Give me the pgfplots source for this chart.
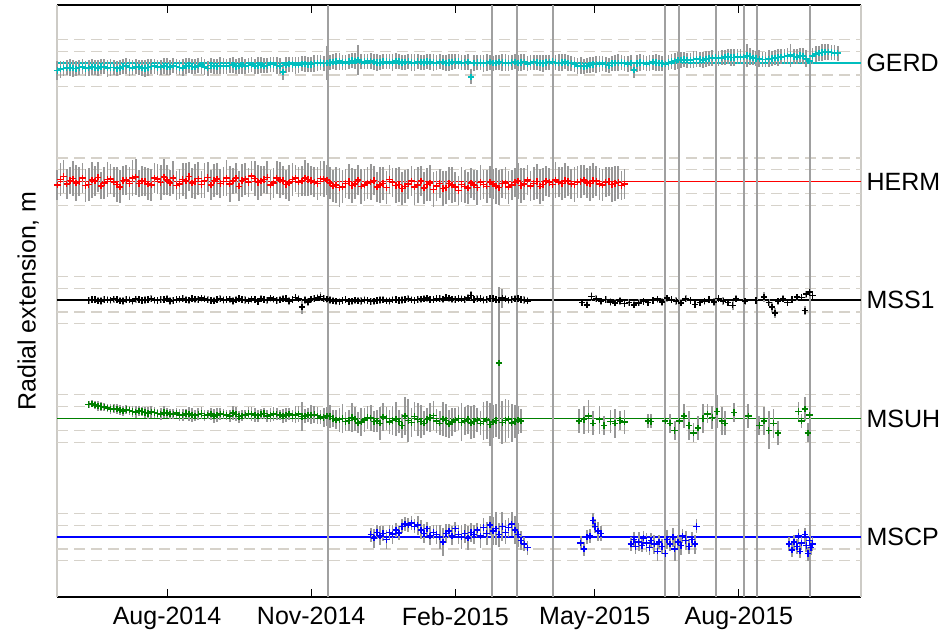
\documentclass[border=0pt]{standalone}
\usepackage{fontspec}
\setmainfont{Liberation Sans}
\usepackage{pgfplots}
\usepackage{pgfplotstable}
\pgfplotsset{compat=1.18}
\definecolor{cyanM}{RGB}{0,190,190}
\definecolor{greenM}{RGB}{0,128,0}
\definecolor{ebC}{RGB}{152,152,152}
\definecolor{dashC}{RGB}{214,210,202}
\definecolor{vlineC}{RGB}{160,160,160}
\definecolor{borderC}{RGB}{205,203,198}

\pgfplotstableread{
x y e
-70 -0.32 .25
-66 -0.22 .2
-62 -0.18 .22
-58 -0.24 .2
-54 -0.16 .2
-50 -0.21 .22
-46 -0.19 .2
-42 -0.14 .2
-38 -0.22 .22
-34 -0.18 .2
-30 -0.20 .2
-26 -0.13 .22
-22 -0.20 .2
-18 -0.17 .2
-14 -0.23 .22
-10 -0.15 .2
-6 -0.19 .2
-2 -0.12 .22
2 -0.17 .2
6 -0.14 .2
10 -0.20 .22
14 -0.11 .2
18 -0.16 .2
22 -0.09 .22
26 -0.22 .2
30 -0.13 .2
34 -0.10 .22
38 -0.15 .2
42 -0.08 .2
46 -0.12 .22
50 -0.14 .2
54 -0.07 .2
58 -0.10 .22
62 -0.12 .2
66 -0.06 .2
70 -0.10 .22
74 -0.38 .2
78 -0.05 .2
82 -0.09 .22
86 -0.03 .2
90 -0.07 .2
94 -0.02 .22
98 0.02 .2
102 -0.01 .45
106 0.05 .2
110 0.08 .22
114 0.04 .2
118 0.10 .2
122 0.12 .4
126 0.06 .2
130 0.09 .2
134 0.03 .22
138 0.07 .2
142 0.05 .2
146 0.09 .22
150 0.02 .2
154 0.06 .2
158 0.01 .22
162 0.04 .2
166 0.07 .2
170 0.02 .22
174 0.05 .2
178 0.00 .2
182 0.04 .22
186 0.06 .2
190 0.03 .2
194 -0.58 .2
198 0.02 .2
202 -0.02 .22
206 0.04 .2
210 0.01 .2
214 0.03 .22
218 0.00 .2
222 0.05 .2
226 0.02 .22
230 -0.03 .2
234 0.04 .2
238 0.00 .22
242 0.03 .2
246 0.06 .2
250 0.01 .22
254 0.05 .2
258 -0.02 .2
262 -0.12 .22
266 -0.15 .2
270 -0.08 .2
274 -0.05 .22
278 -0.02 .2
282 -0.10 .2
286 0.00 .22
290 0.03 .2
294 -0.04 .2
298 -0.30 .2
302 0.02 .22
306 -0.03 .2
310 0.04 .2
314 0.00 .22
318 -0.05 .2
322 0.06 .2
326 0.12 .22
330 0.15 .2
334 0.10 .2
338 0.17 .22
342 0.13 .2
346 0.20 .2
350 0.24 .22
354 0.22 .2
358 0.27 .2
362 0.23 .22
366 0.26 .2
370 0.32 .3
374 0.22 .2
378 0.18 .22
382 0.14 .2
386 0.20 .2
390 0.24 .22
394 0.28 .2
398 0.33 .3
402 0.26 .2
406 0.30 .22
410 0.08 .2
414 0.38 .2
418 0.45 .22
422 0.47 .2
426 0.43 .2
}\gerd

\pgfplotstableread{
x y e
-68 -0.26 .22
-64 -0.20 .2
-60 -0.22 .22
-56 -0.19 .2
-52 -0.23 .2
-48 -0.17 .22
-44 -0.21 .2
-40 -0.16 .2
-36 -0.19 .22
-32 -0.24 .2
-28 -0.15 .2
-24 -0.18 .22
-20 -0.14 .2
-16 -0.21 .2
-12 -0.18 .22
-8 -0.13 .2
-4 -0.17 .2
0 -0.15 .22
4 -0.12 .2
8 -0.18 .2
12 -0.13 .22
16 -0.15 .2
20 -0.12 .2
24 -0.16 .22
28 -0.11 .2
32 -0.15 .2
36 -0.12 .22
40 -0.10 .2
44 -0.14 .2
48 -0.09 .22
52 -0.11 .2
56 -0.13 .2
60 -0.08 .22
64 -0.11 .2
68 -0.07 .2
72 -0.12 .22
76 -0.08 .2
80 -0.06 .2
84 -0.08 .22
88 -0.04 .2
92 -0.06 .2
96 0.00 .22
100 -0.02 .2
104 0.03 .2
108 0.06 .22
112 0.02 .2
116 0.07 .2
120 0.09 .22
124 0.05 .2
128 0.08 .2
132 0.05 .22
136 0.02 .2
140 0.06 .2
144 0.03 .22
148 0.07 .2
152 0.04 .2
156 0.02 .22
160 0.06 .2
164 0.03 .2
168 0.05 .22
172 0.01 .2
176 0.04 .2
180 0.02 .22
184 0.06 .2
188 0.01 .2
192 0.04 .22
196 0.00 .2
200 0.03 .2
204 0.01 .22
208 -0.01 .2
212 0.04 .2
216 0.02 .22
220 0.03 .2
224 0.00 .2
228 0.04 .22
232 0.01 .2
236 0.02 .2
240 -0.02 .22
244 0.04 .2
248 0.02 .2
252 0.03 .22
256 0.00 .2
260 -0.06 .2
264 -0.10 .22
268 -0.12 .2
272 -0.06 .2
276 -0.04 .22
280 -0.06 .2
284 -0.02 .2
288 0.01 .22
292 -0.02 .2
296 0.00 .2
300 -0.02 .22
304 0.01 .2
308 0.00 .2
312 0.02 .22
316 -0.02 .2
320 0.03 .2
324 0.08 .22
328 0.13 .2
332 0.12 .2
336 0.14 .22
340 0.15 .2
344 0.17 .2
348 0.22 .22
352 0.20 .2
356 0.25 .2
360 0.24 .22
364 0.28 .2
368 0.25 .2
372 0.27 .22
376 0.20 .2
380 0.16 .2
384 0.18 .22
388 0.22 .2
392 0.26 .2
396 0.30 .22
400 0.28 .2
404 0.32 .2
408 0.18 .22
412 0.30 .2
416 0.42 .2
420 0.46 .22
424 0.44 .2
428 0.42 .2
}\gerdb

\pgfplotstableread{
x y e
-70 -0.15 .5
-66 0.22 .55
-62 0.05 .45
-58 -0.06 .6
-54 0.14 .5
-50 -0.12 .55
-46 0.02 .5
-42 -0.18 .45
-38 0.08 .6
-34 -0.02 .5
-30 -0.22 .55
-26 0.06 .5
-22 0.16 .6
-18 -0.08 .45
-14 0.00 .5
-10 -0.14 .55
-6 0.10 .5
-2 0.20 .6
2 -0.06 .45
6 -0.16 .5
10 0.08 .55
14 0.22 .5
18 0.00 .6
22 -0.12 .45
26 0.18 .5
30 0.04 .55
34 -0.08 .5
38 0.14 .6
42 0.02 .45
46 -0.20 .5
50 0.10 .55
54 0.24 .5
58 -0.04 .6
62 0.08 .45
66 -0.14 .5
70 0.16 .55
74 0.04 .5
78 -0.06 .6
82 0.14 .45
86 0.02 .5
90 0.08 .55
94 -0.02 .5
98 0.12 .6
102 0.06 .5
106 -0.18 .55
110 -0.26 .65
114 -0.08 .5
118 -0.16 .6
122 0.06 .5
126 -0.14 .55
130 -0.02 .6
134 -0.22 .5
138 -0.08 .55
142 0.08 .5
146 -0.16 .6
150 -0.30 .55
154 -0.10 .5
158 -0.24 .6
162 0.02 .5
166 -0.12 .55
170 -0.34 .6
174 -0.08 .5
178 -0.26 .55
182 -0.14 .6
186 -0.38 .5
190 -0.20 .55
194 -0.06 .5
198 -0.26 .6
202 -0.12 .5
206 -0.02 .55
210 -0.18 .6
214 -0.08 .5
218 -0.24 .55
222 -0.04 .5
226 -0.16 .6
230 0.06 .5
234 -0.08 .55
238 -0.20 .6
242 0.02 .5
246 -0.12 .55
250 -0.02 .5
254 0.04 .6
258 -0.10 .5
262 -0.02 .55
266 0.06 .5
270 -0.08 .6
274 0.02 .5
278 -0.14 .55
282 0.00 .5
286 -0.08 .6
290 -0.16 .5
}\herm

\pgfplotstableread{
x y e
-68 0.08 .55
-64 -0.10 .5
-60 0.12 .6
-56 0.00 .5
-52 -0.16 .55
-48 0.06 .6
-44 0.18 .5
-40 -0.06 .55
-36 0.10 .5
-32 -0.12 .6
-28 0.04 .5
-24 -0.08 .55
-20 0.20 .6
-16 0.02 .5
-12 -0.10 .55
-8 0.14 .5
-4 -0.04 .6
0 0.06 .5
4 0.16 .55
8 -0.10 .5
12 0.02 .6
16 -0.06 .5
20 0.12 .55
24 0.04 .6
28 -0.14 .5
32 0.10 .55
36 0.00 .5
40 -0.10 .6
44 0.14 .5
48 0.04 .55
52 -0.04 .5
56 0.12 .6
60 0.02 .5
64 0.18 .55
68 -0.06 .5
72 0.06 .6
76 -0.12 .5
80 0.08 .55
84 -0.02 .5
88 0.16 .6
92 0.04 .5
96 -0.08 .55
100 0.10 .6
104 -0.06 .55
108 -0.14 .6
112 -0.22 .55
116 0.00 .6
120 -0.10 .5
124 -0.20 .6
128 -0.06 .55
132 0.04 .5
136 -0.14 .6
140 -0.26 .55
144 -0.04 .5
148 -0.12 .6
152 -0.20 .55
156 0.02 .5
160 -0.14 .6
164 -0.28 .55
168 -0.06 .6
172 -0.18 .5
176 -0.30 .6
180 -0.08 .55
184 -0.22 .5
188 -0.12 .6
192 -0.28 .55
196 -0.14 .5
200 -0.04 .6
204 -0.20 .55
208 -0.10 .5
212 -0.26 .6
216 -0.06 .55
220 -0.14 .5
224 0.02 .6
228 -0.10 .55
232 -0.18 .5
236 0.00 .6
240 -0.12 .55
244 -0.04 .5
248 0.06 .6
252 -0.08 .55
256 0.02 .5
260 -0.12 .6
264 0.00 .55
268 -0.06 .5
272 0.04 .6
276 -0.10 .55
280 -0.02 .5
284 -0.12 .6
288 -0.04 .55
292 -0.10 .5
}\hermb

\pgfplotstableread{
x y e
-50 -0.02 .15
-46 0.03 .15
-42 -0.04 .15
-38 0.01 .15
-34 0.04 .15
-30 -0.03 .15
-26 0.02 .15
-22 -0.05 .15
-18 0.03 .15
-14 0.00 .15
-10 0.05 .15
-6 -0.02 .15
-2 0.03 .15
2 -0.04 .15
6 0.02 .15
10 0.06 .15
14 -0.01 .15
18 0.04 .15
22 0.08 .15
26 0.01 .15
30 -0.03 .15
34 0.05 .15
38 0.02 .15
42 -0.04 .15
46 0.06 .15
50 0.00 .15
54 0.04 .15
58 -0.06 .15
62 0.03 .15
66 0.08 .15
70 -0.02 .15
74 0.05 .15
78 -0.04 .15
82 0.10 .15
86 -0.30 .3
90 -0.08 .15
94 0.06 .15
98 0.14 .2
102 0.04 .15
106 -0.03 .15
110 -0.07 .15
114 0.02 .15
118 -0.05 .15
122 -0.03 .15
126 0.00 .15
130 -0.06 .15
134 -0.02 .15
138 0.01 .15
142 -0.04 .15
146 0.03 .15
150 0.00 .15
154 0.05 .15
158 -0.02 .15
162 0.04 .15
166 0.08 .15
170 0.02 .15
174 0.06 .15
178 0.10 .15
182 0.04 .15
186 0.07 .15
190 0.02 .15
194 0.20 .2
198 0.05 .15
202 0.00 .15
206 0.06 .15
210 0.03 .15
214 0.08 .4
218 -0.01 .15
222 0.05 .15
226 0.02 .15
230 -0.03 .15
265 -0.10 .15
268 -0.20 .15
271 0.15 .2
274 0.05 .15
277 -0.05 .15
280 0.02 .15
283 -0.08 .15
286 -0.12 .15
289 -0.04 .15
292 -0.15 .15
295 -0.10 .15
298 -0.20 .15
301 -0.12 .15
304 -0.06 .15
307 -0.10 .15
310 -0.02 .15
313 0.04 .15
316 -0.08 .15
319 0.08 .15
322 0.02 .15
325 -0.04 .15
328 -0.12 .15
331 0.05 .15
334 -0.02 .15
337 -0.18 .15
340 -0.10 .15
343 -0.05 .15
346 0.02 .15
349 -0.08 .15
352 0.06 .15
355 -0.04 .15
358 -0.10 .15
361 -0.22 .2
363 0.05 .15
369 -0.05 .15
376 -0.02 .15
381 0.12 .2
384 -0.10 .15
386 -0.30 .2
388 -0.55 .2
390 -0.05 .15
393 0.05 .15
396 -0.10 .15
399 0.02 .15
402 0.12 .15
405 0.10 .15
407 -0.45 .2
408 0.25 .15
410 0.35 .2
412 0.20 .15
}\mssone

\pgfplotstableread{
x y e
-48 0.02 .15
-44 -0.03 .15
-40 0.03 .15
-36 -0.01 .15
-32 0.02 .15
-28 -0.04 .15
-24 0.01 .15
-20 0.04 .15
-16 -0.02 .15
-12 0.03 .15
-8 -0.01 .15
-4 0.02 .15
0 0.05 .15
4 -0.02 .15
8 0.04 .15
12 0.01 .15
16 0.06 .15
20 0.02 .15
24 0.05 .15
28 -0.02 .15
32 0.03 .15
36 0.00 .15
40 0.04 .15
44 0.01 .15
48 0.03 .15
52 -0.03 .15
56 0.02 .15
60 0.05 .15
64 -0.01 .15
68 0.04 .15
72 0.01 .15
76 0.07 .15
80 0.02 .15
84 0.05 .15
88 0.00 .15
92 0.04 .15
96 0.09 .15
100 0.06 .15
104 0.00 .15
108 -0.05 .15
112 -0.02 .15
116 -0.06 .15
120 -0.01 .15
124 -0.04 .15
128 -0.02 .15
132 -0.05 .15
136 0.00 .15
140 -0.03 .15
144 0.01 .15
148 -0.02 .15
152 0.03 .15
156 0.01 .15
160 0.02 .15
164 0.05 .15
168 0.03 .15
172 0.07 .15
176 0.04 .15
180 0.08 .15
184 0.02 .15
188 0.05 .15
192 0.09 .15
196 0.03 .15
200 0.06 .15
204 0.02 .15
208 0.07 .15
212 0.01 .15
216 0.05 .15
220 0.03 .15
224 0.06 .15
228 0.00 .15
}\mssoneb

\pgfplotstableread{
x y e
-50 0.60 .15
-46 0.58 .18
-42 0.50 .2
-38 0.45 .18
-34 0.42 .2
-30 0.36 .22
-26 0.38 .2
-22 0.30 .25
-18 0.32 .2
-14 0.25 .22
-10 0.28 .25
-6 0.22 .2
-2 0.26 .25
2 0.18 .22
6 0.24 .2
10 0.15 .25
14 0.20 .3
18 0.12 .22
22 0.22 .25
26 0.16 .2
30 0.10 .3
34 0.20 .25
38 0.14 .22
42 0.24 .3
46 0.08 .25
50 0.16 .2
54 0.20 .3
58 0.12 .25
62 0.22 .22
66 0.14 .3
70 0.18 .25
74 0.10 .3
78 0.20 .25
82 0.16 .35
86 0.08 .6
90 0.14 .3
94 0.18 .35
98 0.06 .3
102 0.10 .4
106 0.00 .35
110 -0.05 .5
114 -0.12 .4
118 0.04 .6
122 -0.18 .45
126 -0.06 .5
130 0.02 .55
134 -0.10 .45
138 0.06 .6
142 -0.15 .5
146 -0.02 .7
150 -0.30 .5
154 -0.08 .9
158 0.08 .6
162 -0.12 .7
166 -0.04 .5
170 0.12 .6
174 -0.20 .5
178 -0.08 .7
182 -0.14 .6
186 0.00 .5
190 -0.10 .6
194 -0.18 .7
198 -0.06 .5
202 -0.12 .8
206 -0.25 .9
210 -0.08 .7
212 2.35 3.2
214 -0.16 .9
218 -0.02 .8
222 -0.12 .7
226 -0.10 .5
263 -0.10 .5
266 -0.05 .6
269 0.10 .7
272 -0.20 .5
276 -0.05 .6
279 -0.30 .4
283 -0.12 .5
286 -0.20 .6
289 -0.08 .4
292 -0.15 .5
307 -0.10 .3
309 -0.12 .3
318 -0.10 .5
321 -0.20 .4
324 -0.50 .4
327 -0.10 .6
330 0.10 .5
333 -0.30 .6
336 -0.60 .4
339 -0.40 .5
342 0.00 .6
345 0.20 .4
348 0.05 .5
351 0.30 .7
354 -0.10 .6
356 -0.20 .5
362 0.25 .4
371 0.10 .5
378 -0.30 .4
381 -0.10 .6
384 -0.50 .8
387 -0.20 .6
390 -0.60 .5
403 0.30 .4
405 -0.10 .3
407 0.40 .5
409 -0.60 .4
410 0.15 .3
}\msuh

\pgfplotstableread{
x y e
-48 0.62 .15
-44 0.52 .2
-40 0.48 .18
-36 0.40 .2
-32 0.40 .2
-28 0.32 .22
-24 0.35 .2
-20 0.27 .25
-16 0.30 .2
-12 0.22 .25
-8 0.26 .22
-4 0.20 .25
0 0.23 .2
4 0.20 .22
8 0.14 .25
12 0.22 .2
16 0.16 .3
20 0.18 .25
24 0.12 .22
28 0.20 .25
32 0.14 .3
36 0.18 .22
40 0.10 .25
44 0.18 .3
48 0.12 .22
52 0.22 .25
56 0.14 .3
60 0.18 .22
64 0.10 .25
68 0.20 .3
72 0.14 .22
76 0.16 .3
80 0.12 .25
84 0.20 .35
88 0.10 .3
92 0.16 .4
96 0.12 .35
100 0.04 .4
104 0.08 .5
108 -0.06 .4
112 0.00 .6
116 -0.08 .45
120 -0.02 .5
124 -0.14 .6
128 0.04 .5
132 -0.12 .45
136 -0.20 .7
140 0.00 .5
144 -0.08 .6
148 -0.12 .5
152 0.10 .8
156 -0.16 .6
160 -0.04 .7
164 -0.20 .5
168 0.04 .6
172 -0.10 .5
176 -0.02 .7
180 -0.22 .6
184 -0.06 .5
188 -0.16 .8
192 -0.04 .6
196 -0.12 .7
200 -0.20 .5
204 -0.06 .8
208 -0.14 .7
216 -0.08 .9
220 -0.18 .8
224 -0.06 .6
}\msuhb

\pgfplotstableread{
x y e
130 0.10 .3
132 -0.05 .4
134 0.20 .3
136 0.05 .4
138 0.15 .3
140 -0.10 .4
142 0.20 .3
144 0.12 .4
146 0.30 .3
148 0.18 .3
150 0.45 .3
152 0.55 .3
154 0.50 .3
156 0.60 .3
158 0.45 .3
160 0.50 .4
162 0.30 .4
164 0.15 .4
166 0.35 .3
168 0.05 .4
170 0.20 .3
172 0.10 .4
174 0.00 .5
176 -0.20 .6
178 0.15 .4
180 0.25 .3
182 0.05 .4
184 0.35 .3
186 0.10 .4
188 0.00 .5
190 0.15 .4
192 -0.05 .5
194 0.20 .4
196 0.10 .4
198 0.30 .3
200 0.05 .5
202 0.40 .4
204 0.15 .5
206 0.50 .4
208 0.25 .6
210 0.35 .7
212 0.10 .5
214 0.45 .6
216 0.20 .5
218 0.40 .4
220 0.55 .5
222 0.30 .6
224 0.10 .5
226 -0.15 .4
228 -0.30 .3
230 -0.45 .3
264 -0.25 .3
266 -0.50 .3
268 0.00 .3
270 0.05 .3
272 0.70 .3
273 0.45 .3
275 0.25 .4
277 0.15 .3
296 -0.30 .3
298 -0.10 .3
299 -0.40 .3
301 -0.20 .4
303 -0.35 .3
304 -0.05 .3
306 -0.25 .4
308 -0.45 .3
309 -0.15 .3
311 -0.30 .4
313 -0.60 .4
314 -0.20 .3
316 -0.40 .3
318 -0.70 .5
319 -0.10 .4
321 -0.30 .3
323 0.00 .4
324 -0.50 .5
326 -0.20 .3
328 -0.35 .4
329 0.05 .3
331 -0.15 .4
333 -0.40 .3
335 -0.10 .3
337 -0.30 .4
338 0.45 .3
397 -0.30 .3
399 -0.55 .3
400 -0.20 .3
402 -0.40 .3
403 0.05 .3
404 -0.60 .3
405 -0.25 .3
407 0.10 .3
408 -0.35 .3
409 -0.70 .3
410 -0.15 .3
411 -0.45 .3
412 -0.30 .3
}\mscp

% error bars of a station: table, offset, scale of the error column
\newcommand\ebars[3]{%
  \addplot[draw=none, no markers, forget plot,
    error bars/.cd, y dir=both, y explicit,
    error bar style={draw=ebC, line width=1.7pt}]
    table[x=x, y expr=\thisrow{y}+#2, y error expr=\thisrow{e}*#3] {#1};}
% markers of a station: table, offset, colour
\newcommand\smarks[3]{%
  \addplot[draw=none, only marks, mark=+, mark size=3.2pt, forget plot,
    mark options={draw=#3, line width=1.5pt}]
    table[x=x, y expr=\thisrow{y}+#2] {#1};}

\begin{document}
\begin{tikzpicture}
\begin{axis}[
  at={(57pt,38pt)}, anchor=south west,
  scale only axis, width=804pt, height=592pt,
  xmin=-70.2, xmax=442.9, ymin=-2.53, ymax=22.45,
  xtick={0,92,184,273,365},
  xticklabels={Aug-2014,Nov-2014,Feb-2015,May-2015,Aug-2015},
  ytick=\empty,
  tick align=inside,
  major tick length=8pt,
  tick style={black, line width=1pt},
  separate axis lines,
  x axis line style={black, line width=1.2pt},
  y axis line style={borderC, line width=1.2pt},
  clip=false,
  ticklabel style={font=\fontsize{25}{30}\selectfont},
  xticklabel style={yshift=-7pt},
  ylabel={Radial extension, m},
  every axis y label/.style={at={(axis description cs:-0.036,0.5)}, rotate=90, anchor=center, font=\fontsize{25}{30}\selectfont},
  error bars/error mark=none,
]
% dashed reference lines
\pgfplotsinvokeforeach{-1,-0.5,0.5,1,4,4.5,5.5,6,9,9.5,10.5,11,14,14.5,15.5,16,19,19.5,20.5,21}{
  \addplot[dashC, line width=1.3pt, dash pattern=on 11pt off 6pt, forget plot] coordinates {(-70.2,#1) (442.9,#1)};
}
% station baselines
\addplot[cyanM, line width=1.2pt] coordinates {(-70.2,20) (442.9,20)};
\addplot[red, line width=1.2pt] coordinates {(-70.2,15) (442.9,15)};
\addplot[black, line width=1.2pt] coordinates {(-70.2,10) (442.9,10)};
\addplot[greenM, line width=1.2pt] coordinates {(-70.2,5) (442.9,5)};
\addplot[blue, line width=1.2pt] coordinates {(-70.2,0) (442.9,0)};

\ebars{\gerd}{20}{1.6}\ebars{\gerdb}{20}{1.6}
\smarks{\gerd}{20}{cyanM}\smarks{\gerdb}{20}{cyanM}
\ebars{\herm}{15}{1.25}\ebars{\hermb}{15}{1.25}
\smarks{\herm}{15}{red}\smarks{\hermb}{15}{red}
\ebars{\mssone}{10}{1}\ebars{\mssoneb}{10}{1}
\smarks{\mssone}{10}{black}\smarks{\mssoneb}{10}{black}
\ebars{\msuh}{5}{1}\ebars{\msuhb}{5}{1}
\smarks{\msuh}{5}{greenM}\smarks{\msuhb}{5}{greenM}
\ebars{\mscp}{0}{1}
\smarks{\mscp}{0}{blue}

% event lines
\pgfplotsinvokeforeach{102.7,207.4,223.4,246.3,317.8,326.7,350.4,368.2,376.5,410.3}{
  \addplot[vlineC, line width=1.3pt, forget plot] coordinates {(#1,-2.53) (#1,22.45)};
}

\node[anchor=west, font=\fontsize{25}{30}\selectfont] at (axis cs:442.9,20) {\hspace{2pt}GERD};
\node[anchor=west, font=\fontsize{25}{30}\selectfont] at (axis cs:442.9,15) {\hspace{2pt}HERM};
\node[anchor=west, font=\fontsize{25}{30}\selectfont] at (axis cs:442.9,10) {\hspace{2pt}MSS1};
\node[anchor=west, font=\fontsize{25}{30}\selectfont] at (axis cs:442.9,5) {\hspace{2pt}MSUH};
\node[anchor=west, font=\fontsize{25}{30}\selectfont] at (axis cs:442.9,0) {\hspace{2pt}MSCP};
\end{axis}
\pgfresetboundingbox
\path (0,0) rectangle (951pt,635pt);
\end{tikzpicture}
\end{document}
